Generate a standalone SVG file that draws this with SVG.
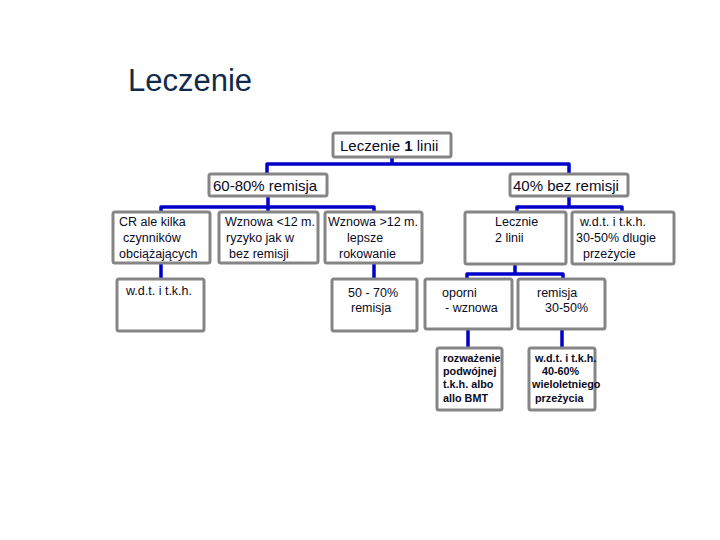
<svg xmlns="http://www.w3.org/2000/svg" width="720" height="540" viewBox="0 0 720 540">
<style>
.box{fill:#fff;stroke:#858585;stroke-width:3;}
.t15{font-family:"Liberation Sans",Arial,sans-serif;font-size:15px;fill:#0a0a1e;}
.t{font-family:"Liberation Sans",Arial,sans-serif;font-size:12.5px;fill:#0a0a1e;}
.ts{font-family:"Liberation Sans",Arial,sans-serif;font-size:10.8px;font-weight:bold;fill:#0a0a1e;}
.c{fill:none;stroke:#0000c8;stroke-width:3.5;stroke-linejoin:round;}
</style>
<rect width="720" height="540" fill="#fff"/>
<text x="128" y="91" font-family="Liberation Sans,Arial,sans-serif" font-size="31" fill="#102a4c">Leczenie</text>
<g id="connectors">
<path class="c" d="M392,157 V164 M267,175 V164 H569 V175"/>
<path class="c" d="M268,196 V207 M161,213 V207 H374 V213 M268,207 V213"/>
<path class="c" d="M569,196 V207 M517,213 V207 H622 V213"/>
<path class="c" d="M161,264 V280"/>
<path class="c" d="M374,264 V280"/>
<path class="c" d="M515,264 V274 M467,280 V274 H563 V280"/>
<path class="c" d="M468,328 V348"/>
<path class="c" d="M562,328 V348"/>
</g>
<g id="n1"><rect class="box" x="333" y="133" width="118" height="24" rx="2"/><text class="t15" x="340" y="151">Leczenie <tspan font-weight="bold">1</tspan> linii</text></g>
<g id="n2"><rect class="box" x="209" y="174" width="118" height="22" rx="2"/><text class="t15" x="213" y="191">60-80% remisja</text></g>
<g id="n3"><rect class="box" x="510" y="174" width="118" height="22" rx="2"/><text class="t15" x="513" y="191">40% bez remisji</text></g>
<g id="n4"><rect class="box" x="113" y="212" width="97" height="51" rx="2"/>
<text class="t" x="119" y="226">CR ale kilka</text><text class="t" x="123" y="242">czynników</text><text class="t" x="119" y="258">obciążających</text></g>
<g id="n5"><rect class="box" x="219" y="212" width="99" height="51" rx="2"/>
<text class="t" x="225" y="226">Wznowa &lt;12 m.</text><text class="t" x="226" y="242">ryzyko jak w</text><text class="t" x="229" y="258">bez remisji</text></g>
<g id="n6"><rect class="box" x="325" y="212" width="97" height="51" rx="2"/>
<text class="t" x="328" y="226">Wznowa &gt;12 m.</text><text class="t" x="347" y="242">lepsze</text><text class="t" x="339" y="258">rokowanie</text></g>
<g id="n7"><rect class="box" x="465" y="212" width="101" height="52" rx="2"/>
<text class="t" x="495" y="226">Lecznie</text><text class="t" x="495" y="242">2 linii</text></g>
<g id="n8"><rect class="box" x="572" y="212" width="102" height="52" rx="2"/>
<text class="t" x="580" y="226">w.d.t. i t.k.h.</text><text class="t" x="576" y="242">30-50% dlugie</text><text class="t" x="583" y="258">przeżycie</text></g>
<g id="n9"><rect class="box" x="117" y="279" width="87" height="52" rx="2"/>
<text class="t" x="126" y="295">w.d.t. i t.k.h.</text></g>
<g id="n10"><rect class="box" x="332" y="279" width="85" height="52" rx="2"/>
<text class="t" x="348" y="297">50 - 70%</text><text class="t" x="351" y="312">remisja</text></g>
<g id="n11"><rect class="box" x="425" y="279" width="87" height="50" rx="2"/>
<text class="t" x="442" y="297">oporni</text><text class="t" x="445" y="312">- wznowa</text></g>
<g id="n12"><rect class="box" x="518" y="279" width="87" height="50" rx="2"/>
<text class="t" x="537" y="297">remisja</text><text class="t" x="545" y="312">30-50%</text></g>
<g id="n13"><rect class="box" x="437" y="348" width="65" height="62" rx="2"/>
<text class="ts" x="443" y="362">rozważenie</text><text class="ts" x="443" y="375">podwójnej</text><text class="ts" x="443" y="388">t.k.h. albo</text><text class="ts" x="443" y="402">allo BMT</text></g>
<g id="n14"><rect class="box" x="529" y="348" width="66" height="62" rx="2"/>
<text class="ts" x="535" y="362">w.d.t. i t.k.h.</text><text class="ts" x="542" y="375">40-60%</text><text class="ts" x="532" y="388">wieloletniego</text><text class="ts" x="535" y="402">przeżycia</text></g>
</svg>
